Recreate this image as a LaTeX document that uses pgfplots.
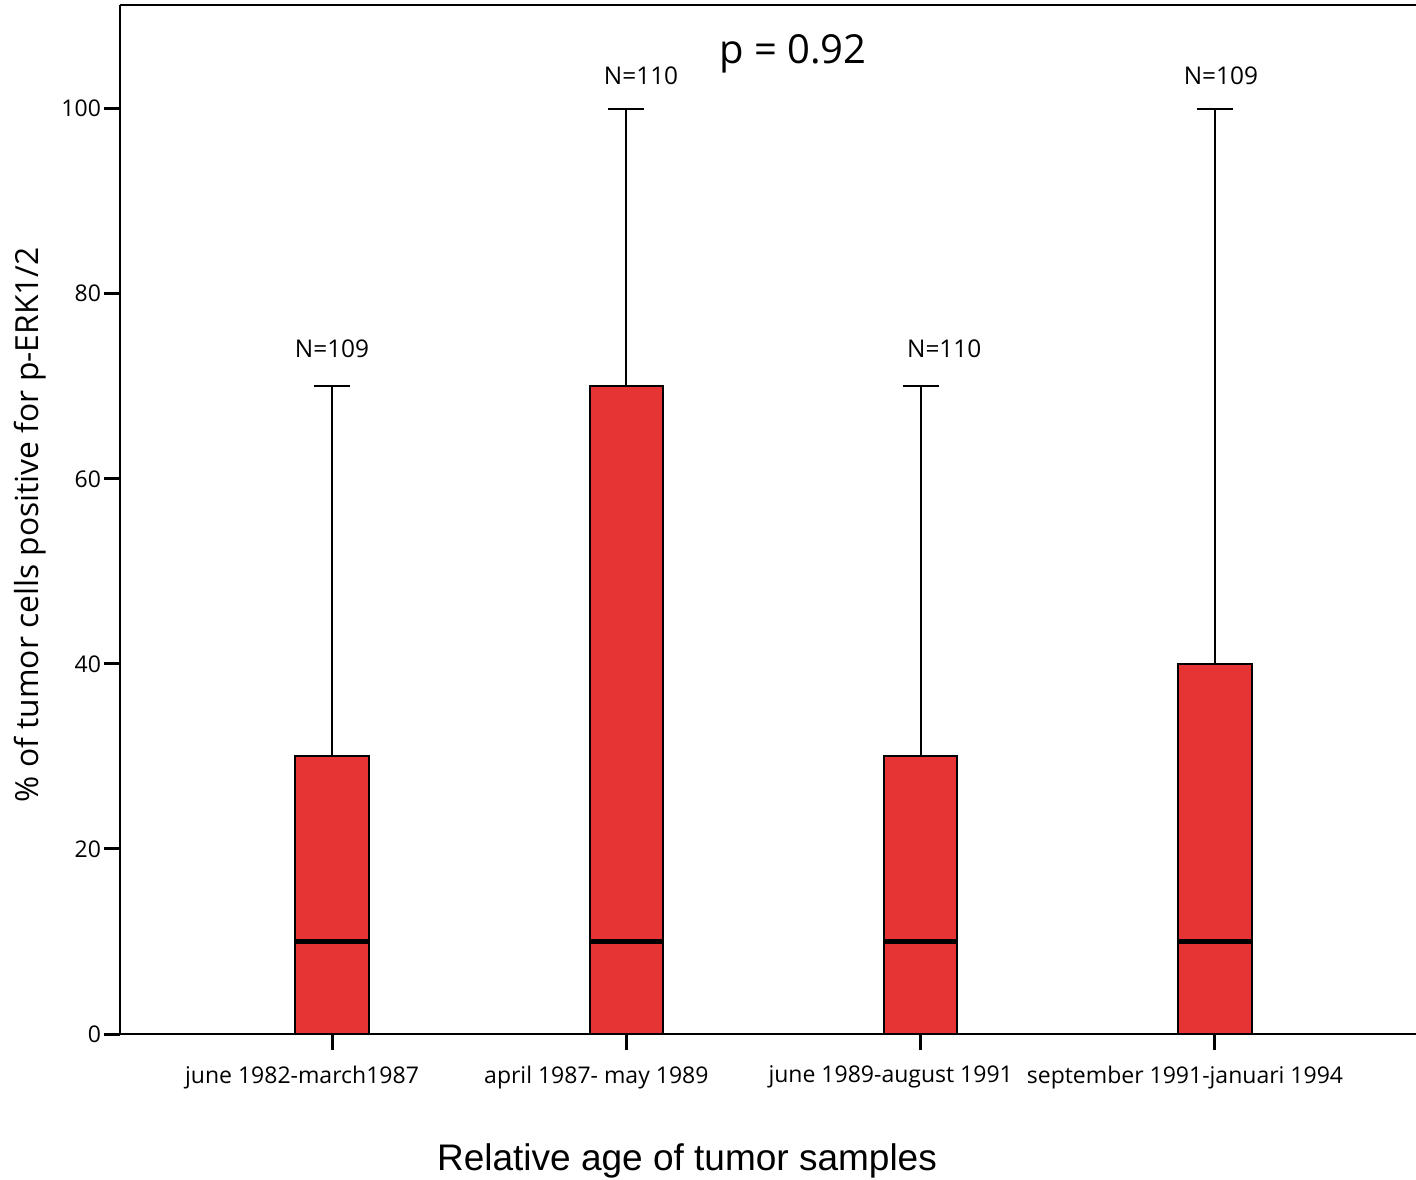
\documentclass[border=0pt]{standalone}
\usepackage{pgfplots}
\pgfplotsset{compat=1.18}
\usepgfplotslibrary{statistics}
\usetikzlibrary{calc}
\usepackage{fontspec}
\setmainfont{Open Sans}
\newfontfamily\arialfont{Liberation Sans}
\definecolor{boxred}{HTML}{E63434}

\begin{document}
\begin{tikzpicture}
\begin{axis}[
  name=ax,
  scale only axis,
  width=648pt, height=514.5pt,
  xmin=0.2797, xmax=4.683,
  ymin=0, ymax=111.2,
  axis x line*=bottom,
  axis y line*=left,
  axis line style={line width=1.2pt},
  tick align=outside,
  major tick length=8pt,
  every tick/.style={line width=1.5pt, black},
  xtick={1,2,3,4},
  xticklabels={june 1982-march1987, april 1987- may 1989, june 1989-august 1991, september 1991-januari 1994},
  ytick={0,20,40,60,80,100},
  /pgf/number format/assume math mode=true,
  tick label style={font=\fontsize{11.5}{13}\selectfont},
  xticklabel style={xshift=-15pt, yshift=-4.5pt},
  yticklabel style={xshift=2pt},
  ylabel={\% of tumor cells positive for p-ERK1/2},
  ylabel style={font=\fontsize{15.9}{18}\selectfont, at={(axis description cs:-0.0694,0.495)}, anchor=center},
  xlabel={\arialfont Relative age of tumor samples},
  xlabel style={font=\fontsize{18.5}{21}\selectfont, at={(axis description cs:0.4375,-0.1235)}, anchor=center},
  boxplot/draw direction=y,
  boxplot/every box/.style={draw=black, line width=1pt, fill=boxred},
  boxplot/every whisker/.style={black, line width=1pt},
  boxplot/every median/.style={black, line width=2.2pt},
]
% box summaries: whisker ends, quartiles and median per period
\addplot[boxplot prepared={draw position=1, lower whisker=0, lower quartile=0,
  median=10, upper quartile=30, upper whisker=70, box extend=0.25, whisker extend=0.122}]
  coordinates {};
\addplot[boxplot prepared={draw position=2, lower whisker=0, lower quartile=0,
  median=10, upper quartile=70, upper whisker=100, box extend=0.25, whisker extend=0.122}]
  coordinates {};
\addplot[boxplot prepared={draw position=3, lower whisker=0, lower quartile=0,
  median=10, upper quartile=30, upper whisker=70, box extend=0.25, whisker extend=0.122}]
  coordinates {};
\addplot[boxplot prepared={draw position=4, lower whisker=0, lower quartile=0,
  median=10, upper quartile=40, upper whisker=100, box extend=0.25, whisker extend=0.122}]
  coordinates {};
% sample sizes
\node[font=\fontsize{12.2}{14}\selectfont] at (axis cs:1,74.1) {N=109};
\node[font=\fontsize{12.2}{14}\selectfont] at (axis cs:2.05,103.6) {N=110};
\node[font=\fontsize{12.2}{14}\selectfont] at (axis cs:3.08,74.1) {N=110};
\node[font=\fontsize{12.2}{14}\selectfont] at (axis cs:4.02,103.6) {N=109};
\node[font=\fontsize{20}{23}\selectfont] at (axis cs:2.566,105.9) {p = 0.92};
\draw[line width=1.2pt] (rel axis cs:0,1) -- (rel axis cs:1,1);
\end{axis}
\pgfresetboundingbox
\path[use as bounding box] ($(ax.south west)+(-60pt,-72.5pt)$) rectangle ($(ax.north east)+(0,2.5pt)$);
\end{tikzpicture}
\end{document}
